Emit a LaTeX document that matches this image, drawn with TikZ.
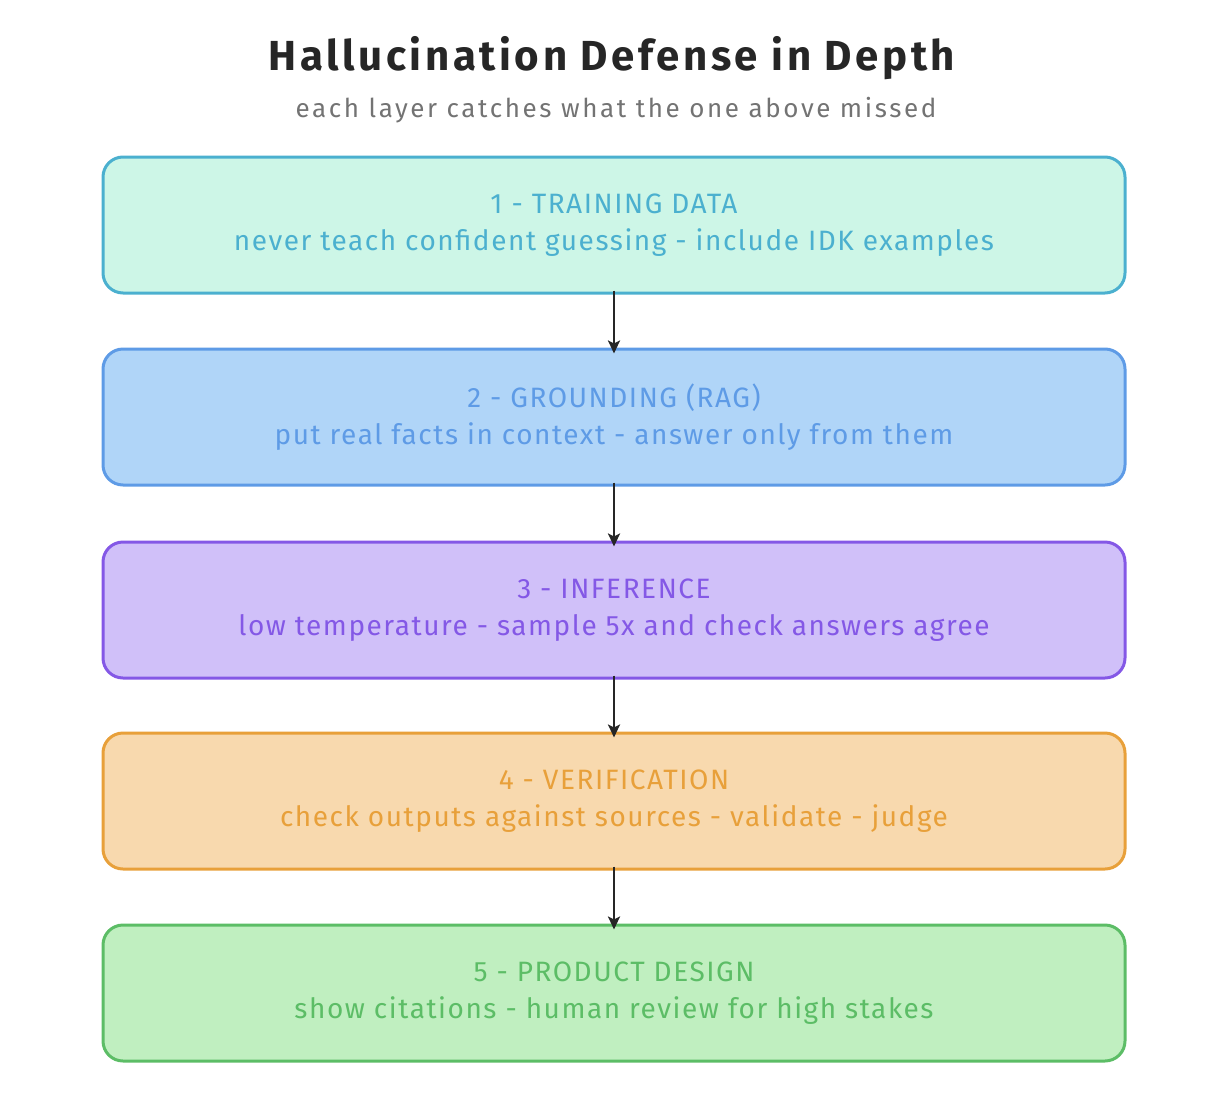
\documentclass[tikz,border=0pt]{standalone}
\usepackage{fontspec}
\setmainfont{Fira Sans}
\usetikzlibrary{arrows.meta}
\begin{document}
\begin{tikzpicture}[x=1pt,y=-1pt,
  box/.style={draw=#1, line width=3pt, rounded corners=20pt, minimum width=1022pt, minimum height=136pt, align=center, text=#1, font=\fontsize{28}{37}\selectfont\addfontfeature{LetterSpace=5.5}},
  arr/.style={draw=black!85, line width=2.6pt, -{Stealth[length=13pt,width=12pt,inset=3pt]}}]
\useasboundingbox (0,0) rectangle (1224,1114);
\definecolor{c1s}{HTML}{4BB0CF}\definecolor{c1f}{HTML}{CDF6E7}
\definecolor{c2s}{HTML}{5E9BE6}\definecolor{c2f}{HTML}{B0D5F8}
\definecolor{c3s}{HTML}{8458E6}\definecolor{c3f}{HTML}{D0C0F9}
\definecolor{c4s}{HTML}{E8A03A}\definecolor{c4f}{HTML}{F8D9AE}
\definecolor{c5s}{HTML}{5CBD66}\definecolor{c5f}{HTML}{C0EFC0}
\node[font=\fontsize{42}{46}\selectfont\bfseries\addfontfeature{LetterSpace=8.5}, text=black!85] (title) at (612,58) {Hallucination Defense in Depth};
\node[font=\fontsize{26}{30}\selectfont\addfontfeature{LetterSpace=10}, text=black!55] (sub) at (616,110) {each layer catches what the one above missed};
\node[box=c1s, fill=c1f] (b1) at (614,225) {1 - TRAINING DATA\\never teach confident guessing - include IDK examples};
\node[box=c2s, fill=c2f] (b2) at (614,417) {2 - GROUNDING (RAG)\\put real facts in context - answer only from them};
\node[box=c3s, fill=c3f] (b3) at (614,610) {3 - INFERENCE\\low temperature - sample 5x and check answers agree};
\node[box=c4s, fill=c4f] (b4) at (614,801) {4 - VERIFICATION\\check outputs against sources - validate - judge};
\node[box=c5s, fill=c5f] (b5) at (614,993) {5 - PRODUCT DESIGN\\show citations - human review for high stakes};
\foreach \a/\b in {b1/b2,b2/b3,b3/b4,b4/b5}
  \draw[arr] ([yshift=4pt]\a.south) -- ([yshift=-6pt]\b.north);
\end{tikzpicture}
\end{document}
